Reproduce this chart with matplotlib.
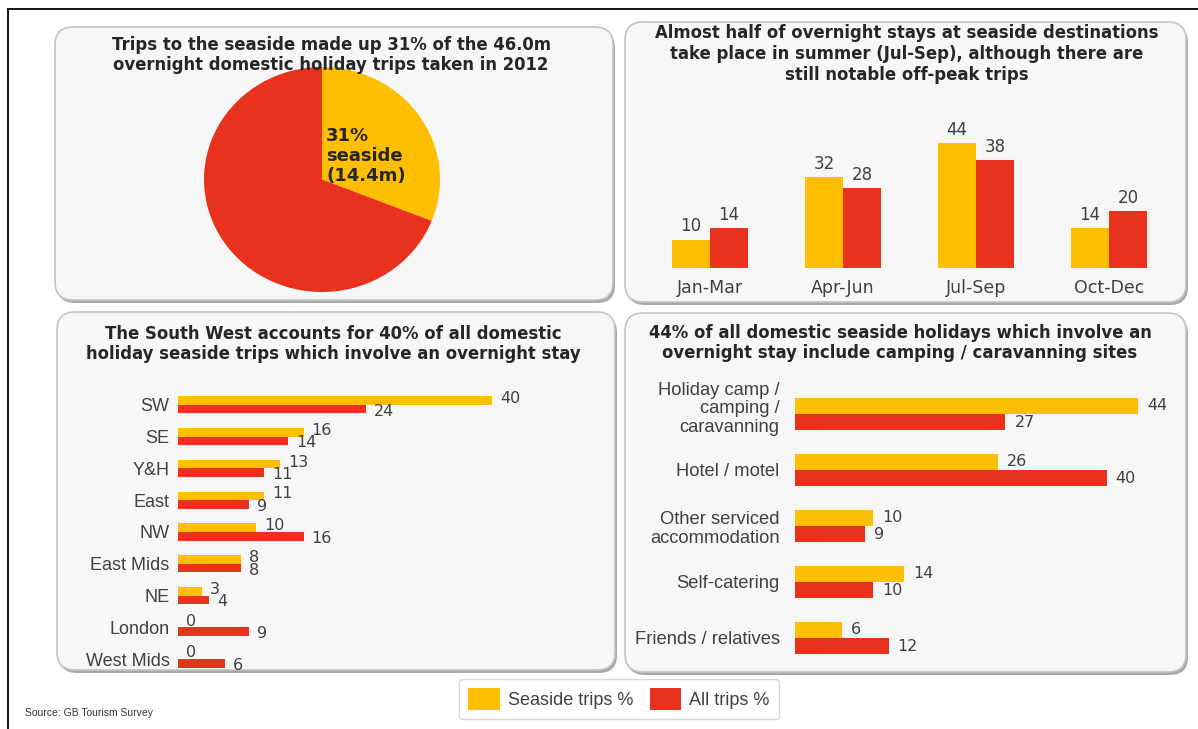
import numpy as np
import matplotlib.pyplot as plt
from matplotlib.patches import FancyBboxPatch, Patch
from matplotlib.lines import Line2D
from matplotlib.transforms import ScaledTranslation

W, H = 1198, 729
YELLOW = "#FFBE00"
RED = "#E8321E"
TXT = "#404040"
ARIAL = "Liberation Sans"
VERDANA = "DejaVu Sans"

# data
pie_values = [31, 69]
pie_label = "31%\nseaside\n(14.4m)"

quarters = ["Jan-Mar", "Apr-Jun", "Jul-Sep", "Oct-Dec"]
quarter_seaside = [10, 32, 44, 14]
quarter_all = [14, 28, 38, 20]

regions = ["SW", "SE", "Y&H", "East", "NW", "East Mids", "NE", "London", "West Mids"]
region_seaside = [40, 16, 13, 11, 10, 8, 3, 0, 0]
region_all = [24, 14, 11, 9, 16, 8, 4, 9, 6]

accom = ["Holiday camp /\ncamping /\ncaravanning", "Hotel / motel",
         "Other serviced\naccommodation", "Self-catering", "Friends / relatives"]
accom_seaside = [44, 26, 10, 14, 6]
accom_all = [27, 40, 9, 10, 12]

titles = [
    "Trips to the seaside made up 31% of the 46.0m\novernight domestic holiday trips taken in 2012",
    "Almost half of overnight stays at seaside destinations\ntake place in summer (Jul-Sep), although there are\nstill notable off-peak trips",
    "The South West accounts for 40% of all domestic\nholiday seaside trips which involve an overnight stay",
    "44% of all domestic seaside holidays which involve an\novernight stay include camping / caravanning sites",
]

fig = plt.figure(figsize=(W / 100, H / 100), dpi=100)
fig.patch.set_facecolor("white")


def px_axes(x0, y0, x1, y1):
    ax = fig.add_axes([x0 / W, 1 - y1 / H, (x1 - x0) / W, (y1 - y0) / H])
    ax.patch.set_facecolor("none")
    for s in ax.spines.values():
        s.set_visible(False)
    return ax


def panel(x0, y0, x1, y1):
    tr = fig.dpi_scale_trans
    shadow = FancyBboxPatch(((x0 + 2) / 100, (H - y1 - 3) / 100), (x1 - x0) / 100, (y1 - y0) / 100,
                            boxstyle="round,pad=0,rounding_size=0.18", transform=tr,
                            facecolor="#A8A8A8", edgecolor="none", zorder=-6)
    box = FancyBboxPatch((x0 / 100, (H - y1) / 100), (x1 - x0) / 100, (y1 - y0) / 100,
                         boxstyle="round,pad=0,rounding_size=0.18", transform=tr,
                         facecolor="#F7F7F7", edgecolor="#C4C4C4", lw=1.2, zorder=-5)
    fig.add_artist(shadow)
    fig.add_artist(box)


# outer frame (left / top lines)
fig.add_artist(Line2D([8 / W, 8 / W], [0, 1 - 9 / H], color="black", lw=1.3))
fig.add_artist(Line2D([8 / W, 1], [1 - 9 / H, 1 - 9 / H], color="black", lw=1.3))

panel(55, 27, 613, 300)
panel(625, 22, 1186, 302)
panel(57, 312, 615, 670)
panel(625, 313, 1186, 672)

title_pos = [(331, 55), (907, 54), (333, 344), (900, 343)]
for t, (x, y) in zip(titles, title_pos):
    fig.text(x / W, 1 - y / H, t, ha="center", va="center", fontsize=11.9,
             fontweight="bold", family=VERDANA, color="#262626", linespacing=1.2)

# pie
ax = px_axes(204, 67, 440, 292)
ax.pie(pie_values, colors=[YELLOW, RED], startangle=90, counterclock=False,
       wedgeprops=dict(linewidth=0))
ax.set_aspect("auto")
ax.set_xlim(-1, 1)
ax.set_ylim(-1, 1)
fig.text(326 / W, 1 - 127 / H, pie_label, ha="left", va="top", fontsize=13,
         fontweight="bold", family=VERDANA, color="#262626", linespacing=1.15)

# quarters column chart
ax = px_axes(643.5, 126, 1175.5, 268)
x = np.arange(len(quarters))
bw = 0.286
b1 = ax.bar(x - bw / 2, quarter_seaside, bw, color=YELLOW, linewidth=0)
b2 = ax.bar(x + bw / 2, quarter_all, bw, color=RED, linewidth=0)
ax.set_xlim(-0.5, 3.5)
ax.set_ylim(0, 50)
ax.set_yticks([])
ax.set_xticks(x, quarters)
ax.tick_params(axis="x", length=0, pad=8, labelsize=12.5, labelcolor=TXT)
for lab in ax.get_xticklabels():
    lab.set_family(VERDANA)
for bars in (b1, b2):
    ax.bar_label(bars, padding=3, fontsize=12, color=TXT, family=VERDANA)

# regions
ax = px_axes(178, 389, 531, 675)
y = np.arange(len(regions))
bh = 0.27
ax.barh(y - bh / 2, region_seaside, bh, color=YELLOW, linewidth=0)
ax.barh(y + bh / 2, region_all, bh, color=RED, linewidth=0)
ax.set_xlim(0, 45)
ax.set_ylim(len(regions) - 0.5, -0.5)
ax.set_xticks([])
ax.set_yticks(y, regions)
ax.tick_params(axis="y", length=0, pad=6, labelsize=13, labelcolor=TXT)
for lab in ax.get_yticklabels():
    lab.set_family(ARIAL)
for i in range(len(regions)):
    ax.annotate(str(region_seaside[i]), (region_seaside[i], i - bh / 2), xytext=(8, 2),
                textcoords="offset pixels", va="center", ha="left", fontsize=11.5, color=TXT,
                family=VERDANA, annotation_clip=False)
    ax.annotate(str(region_all[i]), (region_all[i], i + bh / 2), xytext=(8, -2),
                textcoords="offset pixels", va="center", ha="left", fontsize=11.5, color=TXT,
                family=VERDANA, annotation_clip=False)

# accommodation
ax = px_axes(795, 386, 1169, 666)
y = np.arange(len(accom))
bh = 0.286
ax.barh(y - bh / 2, accom_seaside, bh, color=YELLOW, linewidth=0)
ax.barh(y + bh / 2, accom_all, bh, color=RED, linewidth=0)
ax.set_xlim(0, 48)
ax.set_ylim(len(accom) - 0.5, -0.5)
ax.set_xticks([])
ax.set_yticks(y, accom)
ax.tick_params(axis="y", length=0, pad=11, labelsize=13.2, labelcolor=TXT)
for lab in ax.get_yticklabels():
    lab.set_family(ARIAL)
    lab.set_linespacing(1.15)
first = ax.get_yticklabels()[0]
first.set_transform(first.get_transform() + ScaledTranslation(0, 0.08, fig.dpi_scale_trans))
for i in range(len(accom)):
    ax.annotate(str(accom_seaside[i]), (accom_seaside[i], i - bh / 2), xytext=(9, 0),
                textcoords="offset pixels", va="center", ha="left", fontsize=11.5, color=TXT,
                family=VERDANA, annotation_clip=False)
    ax.annotate(str(accom_all[i]), (accom_all[i], i + bh / 2), xytext=(9, 0),
                textcoords="offset pixels", va="center", ha="left", fontsize=11.5, color=TXT,
                family=VERDANA, annotation_clip=False)

# legend
handles = [Patch(facecolor=YELLOW, edgecolor="none", label="Seaside trips %"),
           Patch(facecolor=RED, edgecolor="none", label="All trips %")]
leg = fig.legend(handles=handles, loc="center", bbox_to_anchor=(619 / W, 1 - 699 / H), ncol=2,
                 prop={"family": ARIAL, "size": 13}, handlelength=1.75, handleheight=1.55,
                 handletextpad=0.45, columnspacing=0.9, borderpad=0.5, fancybox=True,
                 edgecolor="#D8D8D8", framealpha=1)
for t in leg.get_texts():
    t.set_color(TXT)

fig.text(25 / W, 1 - 713 / H, "Source: GB Tourism Survey", ha="left", va="center",
         fontsize=7.5, family=ARIAL, color="#333333")

fig.savefig("out.png", dpi=100)
